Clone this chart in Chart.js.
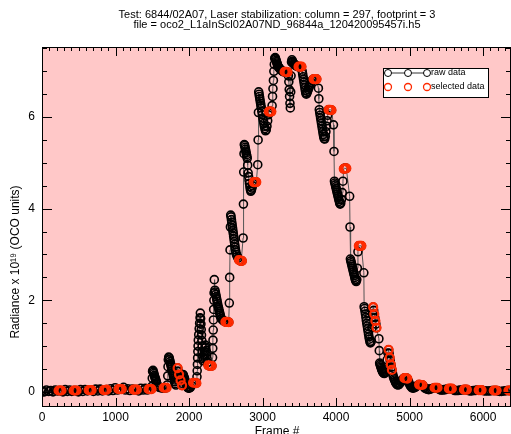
<!DOCTYPE html>
<html><head><meta charset="utf-8">
<script src="https://cdn.jsdelivr.net/npm/chart.js@4.4.1/dist/chart.umd.min.js"></script>
<style>html,body{margin:0;padding:0;background:#fff;overflow:hidden}#wrap{width:511px;height:434px;position:relative}</style>
</head><body><div id="wrap"><canvas id="c" width="511" height="434"></canvas></div>
<script>
const titleLines = ['Test: 6844/02A07, Laser stabilization: column = 297, footprint = 3',
                    'file = oco2_L1aInScl02A07ND_96844a_120420095457i.h5'];
const xTitle = 'Frame #';
const yTitle = 'Radiance x 10\u00b9\u2079 (OCO units)';
const xTickValues = [0, 1000, 2000, 3000, 4000, 5000, 6000];
const yTickValues = [0, 2, 4, 6];
const legendLabels = ['raw data', 'selected data'];

// raw data: [frame, radiance]
const rawPoints = [
 [0,0.02],[30,0.0],[60,0.04],[90,0.01],[120,0.03],[150,0.0],[180,0.04],[210,0.02],[230,0.03],[245,0.03],[260,0.03],[285,0.0],[315,0.05],[345,0.01],[375,0.04],[405,0.01],[430,0.03],[449,0.03],[470,0.03],[495,0.0],[525,0.05],[555,0.01],[585,0.05],[615,0.02],[635,0.04],[653,0.04],[675,0.04],[700,0.01],[730,0.06],[760,0.02],[790,0.06],[820,0.02],[840,0.04],[857,0.04],[880,0.05],[905,0.02],[935,0.07],[965,0.03],[995,0.09],[1025,0.04],[1040,0.06],[1061,0.06],[1085,0.06],[1110,0.1],[1135,0.04],[1165,0.07],[1195,0.03],[1225,0.06],[1245,0.05],[1265,0.05],[1290,0.05],[1315,0.02],[1345,0.08],[1375,0.04],[1405,0.08],[1430,0.04],[1450,0.06],[1469,0.06],[1485,0.06],
 [1495,0.12],[1500,0.3],[1504,0.45],[1510,0.47],[1516,0.43],[1522,0.4],[1528,0.36],[1534,0.33],[1540,0.3],[1546,0.27],[1552,0.24],[1558,0.2],[1566,0.16],[1578,0.12],[1595,0.1],[1615,0.09],[1640,0.08],[1660,0.09],[1673,0.09],[1690,0.09],
 [1705,0.15],[1710,0.35],[1714,0.55],[1718,0.7],[1724,0.76],[1730,0.74],[1736,0.7],[1742,0.66],[1748,0.62],[1754,0.58],[1760,0.54],[1766,0.5],[1772,0.46],[1778,0.42],[1784,0.38],[1790,0.34],[1796,0.3],[1802,0.26],[1808,0.22],[1814,0.18],[1822,0.15],[1832,0.3],[1840,0.45],[1845,0.52],[1855,0.45],[1865,0.38],[1875,0.31],[1885,0.25],[1895,0.19],[1905,0.14],
 [1912,0.3],[1918,0.38],[1924,0.36],[1930,0.33],[1936,0.3],[1942,0.27],[1948,0.24],[1954,0.21],[1960,0.18],[1966,0.15],[1972,0.12],[1980,0.1],[1990,0.08],[2005,0.08],[2020,0.1],[2035,0.14],[2050,0.18],[2060,0.2],[2070,0.2],[2080,0.2],[2090,0.2],[2100,0.19],
 [2108,0.33],[2111,0.46],[2114,0.6],[2117,0.74],[2120,0.88],[2123,1.0],[2126,1.13],[2132,1.25],[2138,1.38],[2144,1.5],[2150,1.62],[2154,1.72],[2158,1.6],[2162,1.48],[2166,1.36],[2170,1.24],[2174,1.12],[2178,1.0],[2182,0.88],[2186,0.76],[2192,0.68],[2198,0.72],[2204,0.8],[2210,0.88],[2216,0.96],[2222,1.02],[2228,0.98],[2234,0.9],[2240,0.8],[2246,0.72],[2252,0.64],[2262,0.58],[2274,0.57],[2286,0.57],[2298,0.57],[2310,0.57],
 [2320,0.75],[2323,0.95],[2326,1.13],[2329,1.35],[2332,1.57],[2335,1.8],[2338,2.0],[2341,2.16],[2344,2.45],[2352,2.22],[2358,2.18],[2364,2.13],[2370,2.08],[2376,2.03],[2382,1.98],[2388,1.93],[2394,1.88],[2400,1.84],[2406,1.8],[2412,1.76],[2418,1.72],[2424,1.68],[2430,1.64],[2440,1.6],[2455,1.57],[2470,1.55],[2485,1.54],[2495,1.53],[2506,1.53],[2517,1.53],[2528,1.53],[2540,1.52],
 [2548,1.94],[2553,2.5],[2558,3.1],[2563,3.6],[2567,3.86],[2572,3.82],[2577,3.76],[2582,3.7],[2587,3.64],[2592,3.58],[2597,3.52],[2602,3.46],[2607,3.4],[2612,3.34],[2617,3.28],[2622,3.22],[2627,3.16],[2632,3.1],[2637,3.05],[2645,3.0],[2655,2.96],[2668,2.92],[2680,2.88],[2690,2.87],[2700,2.86],[2710,2.86],[2720,2.86],
 [2736,3.36],[2740,4.1],[2744,4.8],[2748,5.2],[2752,5.4],[2757,5.38],[2762,5.34],[2767,5.3],[2772,5.26],[2777,5.22],[2782,5.18],[2787,5.14],[2792,5.1],[2798,4.95],[2804,4.78],[2810,4.7],[2816,4.62],[2822,4.55],[2828,4.48],[2834,4.42],[2840,4.38],[2848,4.4],[2856,4.45],[2864,4.5],[2872,4.55],[2880,4.58],[2890,4.58],[2898,4.58],[2906,4.58],[2915,4.58],
 [2935,4.96],[2940,5.5],[2944,6.1],[2948,6.55],[2953,6.5],[2958,6.45],[2963,6.4],[2968,6.35],[2973,6.3],[2978,6.25],[2983,6.2],[2990,6.12],[2997,6.05],[3004,5.98],[3011,5.92],[3018,5.86],[3025,5.8],[3032,5.75],[3040,5.7],[3050,5.72],[3060,5.8],[3070,5.92],[3078,6.05],[3085,6.12],[3094,6.12],[3102,6.12],[3111,6.12],[3120,6.12],
 [3130,6.25],[3136,6.45],[3142,6.62],[3148,6.8],[3154,7.0],[3160,7.15],[3166,7.28],[3172,7.3],[3178,7.27],[3184,7.24],[3190,7.21],[3196,7.18],[3202,7.15],[3208,7.12],[3214,7.1],[3222,7.08],[3232,7.06],[3244,7.04],[3258,7.02],[3272,7.0],[3286,6.99],[3300,6.99],[3310,6.99],[3320,6.99],[3330,6.98],[3340,6.98],
 [3352,6.9],[3358,6.77],[3363,6.6],[3368,6.45],[3373,6.3],[3378,6.2],[3383,6.55],[3388,6.9],[3394,7.2],[3400,7.25],[3406,7.22],[3412,7.2],[3418,7.18],[3424,7.16],[3432,7.15],[3440,7.14],[3450,7.13],[3460,7.12],[3470,7.11],[3480,7.1],[3490,7.1],[3500,7.1],[3510,7.1],[3520,7.1],[3530,7.1],
 [3540,7.0],[3546,6.94],[3552,6.88],[3558,6.82],[3564,6.76],[3570,6.7],[3576,6.64],[3582,6.58],[3588,6.53],[3595,6.5],[3603,6.52],[3612,6.56],[3621,6.6],[3630,6.64],[3640,6.68],[3650,6.72],[3662,6.76],[3675,6.8],[3685,6.82],[3695,6.83],[3705,6.83],[3714,6.83],[3724,6.83],[3735,6.83],
 [3760,6.63],[3766,6.4],[3772,6.16],[3778,6.1],[3784,6.04],[3790,5.98],[3796,5.92],[3802,5.86],[3808,5.8],[3814,5.74],[3820,5.68],[3826,5.62],[3832,5.57],[3838,5.53],[3846,5.52],[3854,5.58],[3862,5.68],[3870,5.8],[3878,5.92],[3886,6.04],[3898,6.16],[3908,6.16],[3918,6.16],[3928,6.16],[3938,6.15],
 [3965,5.83],[3972,5.25],[3978,4.6],[3984,4.56],[3990,4.52],[3996,4.48],[4002,4.44],[4008,4.4],[4014,4.36],[4020,4.32],[4026,4.28],[4032,4.24],[4038,4.2],[4044,4.16],[4050,4.12],[4056,4.1],[4064,4.12],[4074,4.2],[4084,4.35],[4094,4.6],[4105,4.87],[4114,4.88],[4122,4.88],[4131,4.88],[4140,4.88],
 [4185,4.27],[4190,3.6],[4195,2.9],[4201,2.86],[4207,2.82],[4213,2.78],[4219,2.74],[4225,2.7],[4231,2.66],[4237,2.62],[4243,2.58],[4249,2.54],[4255,2.5],[4261,2.46],[4267,2.43],[4274,2.41],[4282,2.45],[4290,2.7],[4298,3.06],[4310,3.19],[4318,3.19],[4327,3.19],[4336,3.19],[4345,3.19],
 [4378,2.6],[4382,1.86],[4388,1.82],[4394,1.76],[4400,1.7],[4406,1.63],[4412,1.56],[4418,1.5],[4424,1.44],[4430,1.38],[4436,1.32],[4442,1.26],[4448,1.2],[4454,1.15],[4460,1.1],[4468,1.07],[4478,1.1],[4490,1.4],[4498,1.7],[4505,1.85],[4512,1.78],[4520,1.7],[4527,1.62],[4535,1.55],[4542,1.48],[4550,1.4],
 [4583,1.16],[4588,0.9],[4593,0.63],[4599,0.6],[4605,0.57],[4611,0.54],[4617,0.51],[4623,0.48],[4629,0.46],[4635,0.44],[4641,0.42],[4648,0.41],[4656,0.4],[4666,0.42],[4680,0.5],[4695,0.7],[4705,0.85],[4715,0.92],[4722,0.84],[4730,0.75],[4737,0.68],[4745,0.6],[4752,0.54],[4760,0.48],
 [4772,0.38],[4780,0.33],[4788,0.29],[4796,0.26],[4804,0.23],[4812,0.2],[4820,0.18],[4830,0.16],[4842,0.15],[4856,0.16],[4870,0.19],[4885,0.22],[4900,0.26],[4915,0.29],[4930,0.3],[4940,0.3],[4950,0.3],[4960,0.3],[4970,0.29],
 [4982,0.24],[4992,0.2],[5002,0.16],[5012,0.13],[5022,0.11],[5034,0.09],[5048,0.08],[5062,0.09],[5076,0.1],[5090,0.12],[5105,0.13],[5120,0.15],[5130,0.16],[5141,0.15],[5152,0.15],[5163,0.15],[5175,0.15],
 [5190,0.12],[5205,0.09],[5220,0.07],[5240,0.06],[5260,0.05],[5280,0.06],[5300,0.07],[5320,0.08],[5340,0.09],[5360,0.09],[5380,0.09],[5395,0.07],[5410,0.05],[5430,0.04],[5450,0.04],[5470,0.05],[5490,0.05],[5510,0.06],[5535,0.07],[5555,0.07],[5575,0.07],[5595,0.05],[5615,0.03],[5635,0.03],[5660,0.03],[5685,0.04],[5710,0.04],[5740,0.05],[5760,0.05],[5780,0.05],[5800,0.03],[5820,0.02],[5845,0.02],[5870,0.03],[5895,0.03],[5915,0.04],[5940,0.04],[5960,0.04],[5980,0.04],[6000,0.03],[6020,0.02],[6045,0.02],[6070,0.02],[6095,0.02],[6120,0.03],[6145,0.03],[6165,0.03],[6185,0.03],[6205,0.02],[6225,0.01],[6250,0.01],[6275,0.02],[6300,0.02],[6325,0.03],[6345,0.03],[6365,0.03],[6380,0.03]
];

// selected data: [frame, radiance]
const selectedPoints = [
 [225,0.03],[245,0.03],[265,0.03],[430,0.03],[449,0.03],[470,0.03],[635,0.04],[653,0.04],[675,0.04],[840,0.04],[857,0.04],[880,0.05],
 [1040,0.06],[1061,0.06],[1085,0.06],[1245,0.05],[1265,0.05],[1290,0.05],[1450,0.06],[1469,0.06],[1490,0.06],[1655,0.09],[1673,0.09],[1695,0.09],
 [1845,0.52],[1865,0.38],[1885,0.25],[1905,0.14],[2055,0.2],[2080,0.2],[2100,0.19],[2262,0.58],[2286,0.57],[2310,0.57],
 [2495,1.53],[2517,1.53],[2540,1.52],[2680,2.88],[2700,2.86],[2720,2.86],[2880,4.58],[2898,4.58],[2915,4.58],
 [3085,6.12],[3102,6.12],[3120,6.12],[3300,6.99],[3320,6.99],[3340,6.98],[3490,7.1],[3510,7.1],[3530,7.1],
 [3695,6.83],[3714,6.83],[3735,6.83],[3898,6.16],[3918,6.16],[3938,6.15],[4105,4.87],[4122,4.88],[4140,4.88],
 [4310,3.19],[4327,3.19],[4345,3.19],[4505,1.85],[4520,1.7],[4535,1.55],[4550,1.4],[4715,0.92],[4730,0.75],[4745,0.6],[4760,0.48],
 [4930,0.3],[4950,0.3],[4970,0.29],[5130,0.16],[5152,0.15],[5175,0.15],[5340,0.09],[5360,0.09],[5380,0.09],
 [5535,0.07],[5555,0.07],[5575,0.07],[5740,0.05],[5760,0.05],[5780,0.05],[5940,0.04],[5960,0.04],[5980,0.04],
 [6145,0.03],[6165,0.03],[6185,0.03],[6345,0.03],[6365,0.03],[6380,0.03]
];

const PINK = 'rgb(255,200,200)';
const RED = '#ff2a00';
const FONT = '"Liberation Sans", Arial, Helvetica, sans-serif';

const decorPlugin = {
  id: 'decor',
  beforeDraw(chart) {
    const {ctx, chartArea: a} = chart;
    ctx.save();
    ctx.fillStyle = '#fff';
    ctx.fillRect(0, 0, chart.width, chart.height);
    ctx.fillStyle = PINK;
    ctx.fillRect(a.left, a.top, a.right - a.left, a.bottom - a.top);
    ctx.restore();
  },
  afterDraw(chart) {
    const {ctx, chartArea: a, scales: {x, y}} = chart;
    ctx.save();
    ctx.strokeStyle = '#000';
    ctx.lineWidth = 1;
    ctx.strokeRect(a.left + 0.5, a.top + 0.5, a.right - a.left - 1, a.bottom - a.top - 1);
    ctx.beginPath();
    for (let v = 0; v <= x.max; v += 100) {
      const px = Math.round(x.getPixelForValue(v)) + 0.5;
      const len = v % 1000 === 0 ? 9 : 4;
      ctx.moveTo(px, a.bottom); ctx.lineTo(px, a.bottom - len);
      ctx.moveTo(px, a.top); ctx.lineTo(px, a.top + len);
    }
    for (let v = 0; v <= y.max; v += 0.5) {
      const py = Math.round(y.getPixelForValue(v)) + 0.5;
      const len = v % 2 === 0 ? 10 : 5;
      ctx.moveTo(a.left, py); ctx.lineTo(a.left + len, py);
      ctx.moveTo(a.right, py); ctx.lineTo(a.right - len, py);
    }
    ctx.stroke();

    // titles
    ctx.fillStyle = '#000';
    ctx.textAlign = 'center';
    ctx.textBaseline = 'middle';
    ctx.font = '11px ' + FONT;
    ctx.fillText(titleLines[0], 277, 15);
    ctx.fillText(titleLines[1], 277, 25);
    ctx.font = '12px ' + FONT;
    ctx.fillText(xTitle, 277, 432);
    ctx.save();
    ctx.translate(16, 262);
    ctx.rotate(-Math.PI / 2);
    ctx.fillText(yTitle, 0, 0);
    ctx.restore();

    // legend
    const bx = 383, by = 68, bw = 105, bh = 29;
    ctx.fillStyle = '#fff';
    ctx.fillRect(bx, by, bw, bh);
    ctx.strokeStyle = '#000';
    ctx.strokeRect(bx + 0.5, by + 0.5, bw, bh);
    const cx = [388, 408, 427];
    ctx.beginPath();
    ctx.moveTo(cx[0], 73); ctx.lineTo(cx[2], 73);
    ctx.strokeStyle = '#333';
    ctx.stroke();
    cx.forEach(c => { ctx.beginPath(); ctx.arc(c, 73, 3.5, 0, Math.PI * 2); ctx.fillStyle='#fff'; ctx.fill(); ctx.strokeStyle = '#000'; ctx.lineWidth = 1; ctx.stroke(); });
    cx.forEach(c => { ctx.beginPath(); ctx.arc(c, 87, 3.5, 0, Math.PI * 2); ctx.strokeStyle = RED; ctx.lineWidth = 1.3; ctx.stroke(); });
    ctx.fillStyle = '#000';
    ctx.textAlign = 'left';
    ctx.font = '9px ' + FONT;
    ctx.fillText(legendLabels[0], 431, 73);
    ctx.fillText(legendLabels[1], 431, 87);
    ctx.restore();
  }
};

new Chart(document.getElementById('c'), {
  type: 'scatter',
  data: {
    datasets: [
      {
        label: legendLabels[1],
        data: selectedPoints.map(([f, v]) => ({x: f, y: v})),
        showLine: false,
        pointRadius: 4,
        pointBorderWidth: 2.2,
        pointBorderColor: RED,
        pointBackgroundColor: 'rgba(0,0,0,0)'
      },
      {
        label: legendLabels[0],
        data: rawPoints.map(([f, v]) => ({x: f, y: v})),
        showLine: true,
        borderColor: '#555',
        borderWidth: 1,
        pointRadius: 4,
        pointBorderWidth: 1.6,
        pointBorderColor: '#000',
        pointBackgroundColor: 'rgba(0,0,0,0)'
      }
    ]
  },
  options: {
    responsive: false,
    animation: false,
    devicePixelRatio: 1,
    layout: {autoPadding: false, padding: {top: 47, left: 0, right: 0, bottom: 0}},
    plugins: {legend: {display: false}, tooltip: {enabled: false}, title: {display: false}},
    scales: {
      x: {
        type: 'linear', min: 0, max: 6380,
        afterFit(s) { s.height = 27; },
        afterBuildTicks(s) { s.ticks = xTickValues.map(v => ({value: v})); },
        ticks: {color: '#000', padding: 3, font: {size: 12, family: FONT}, maxRotation: 0, callback: v => String(v)},
        grid: {display: false, drawTicks: false}, border: {display: false}
      },
      y: {
        type: 'linear', min: -0.33, max: 7.53,
        afterFit(s) { s.width = 42; },
        afterBuildTicks(s) { s.ticks = yTickValues.map(v => ({value: v})); },
        ticks: {color: '#000', padding: 7, font: {size: 12, family: FONT}, callback: v => String(v)},
        grid: {display: false, drawTicks: false}, border: {display: false}
      }
    }
  },
  plugins: [decorPlugin]
});
</script></body></html>
